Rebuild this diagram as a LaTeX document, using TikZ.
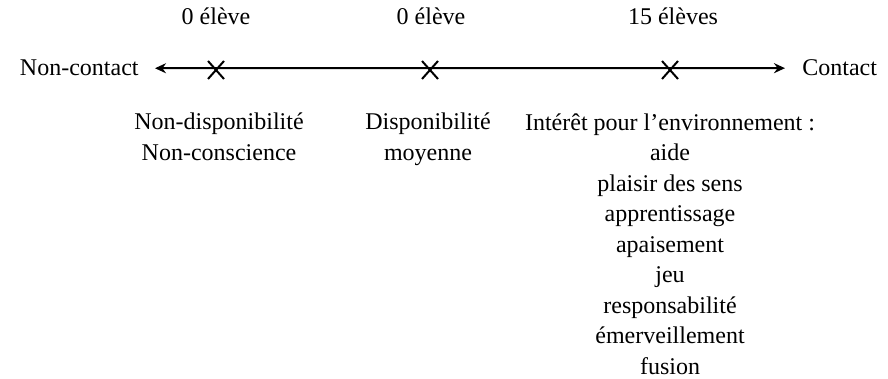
\documentclass[tikz,border=0pt]{standalone}
\usepackage{fontspec}
\setmainfont{Liberation Serif}
\usetikzlibrary{arrows.meta, shapes.misc}
\tikzstyle{axis} = [line width=1pt,<->,>={Stealth[length=5.5pt,width=5pt]}]
\tikzstyle{crossmark} = [cross out, draw, line width=1pt, minimum width=7pt, minimum height=8pt, inner sep=0pt]
\tikzstyle{lbl} = [inner sep=0pt, font=\fontsize{12}{15.25}\selectfont]
\tikzstyle{stack} = [lbl, align=center]

\begin{document}
\begin{tikzpicture}[x=0.5pt, y=-0.5pt]
                \useasboundingbox (0,0) rectangle (888,379);
                \node (noncontact) [lbl, anchor=base east] at (139,76) {Non-contact};
                \node (contact) [lbl, anchor=base west] at (802,76) {Contact};
                \node (c1) [crossmark] at (216,70) {};
                \node (c2) [crossmark] at (430,70) {};
                \node (c3) [crossmark] at (670,70) {};
                \node (n1) [lbl, anchor=base] at (216,25) {0 élève};
                \node (n2) [lbl, anchor=base] at (431,25) {0 élève};
                \node (n3) [lbl, anchor=base] at (673,25) {15 élèves};
                % base = last line, first line at 130
                \node (nondispo) [stack, anchor=base] at (219,160.5) {Non-disponibilité\\Non-conscience};
                \node (dispo) [stack, anchor=base] at (428,160.5) {Disponibilité\\moyenne};
                \node (interet) [stack, anchor=base] at (670,374) {Intérêt pour l’environnement :\\aide\\plaisir des sens\\apprentissage\\apaisement\\jeu\\responsabilité\\émerveillement\\fusion};

                \draw [axis, shorten <=8pt, shorten >=8.5pt] (noncontact) -- (contact);
            \end{tikzpicture}
\end{document}
